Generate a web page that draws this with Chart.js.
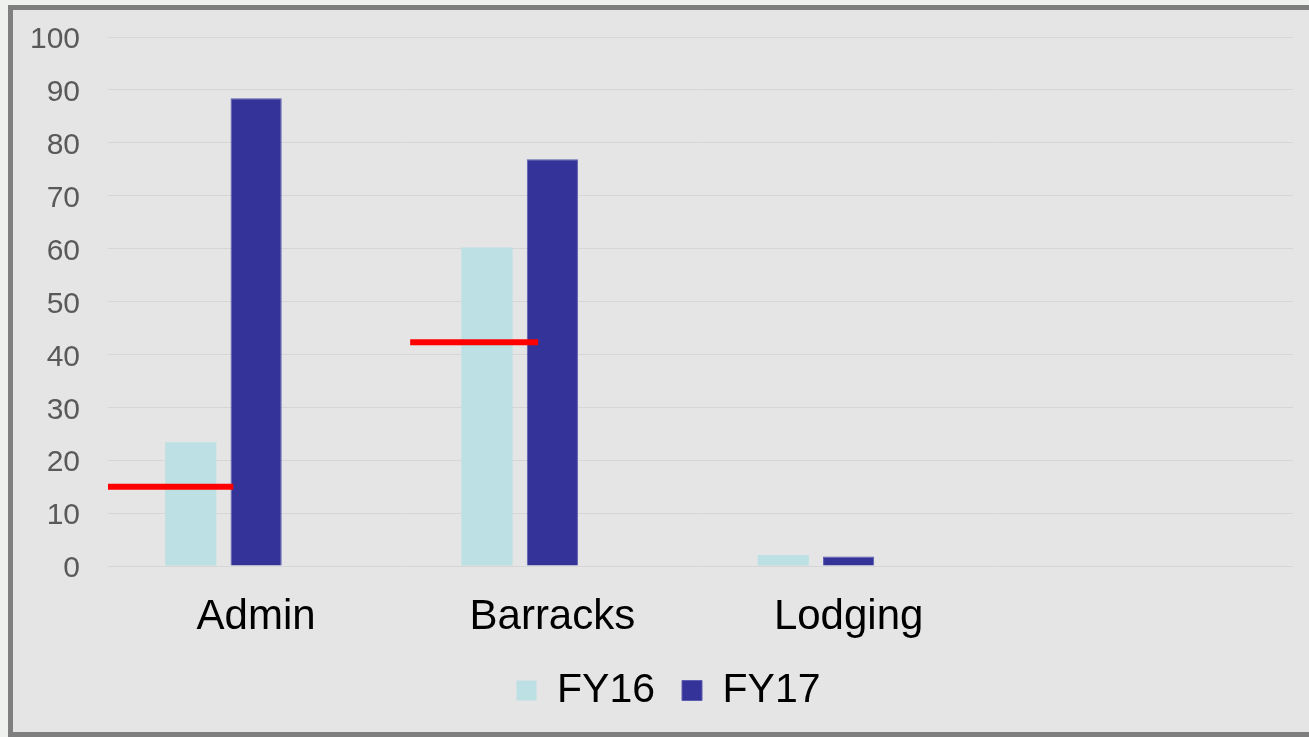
<!DOCTYPE html>
<html>
<head>
<meta charset="utf-8">
<script src="https://cdn.jsdelivr.net/npm/chart.js@4.4.1/dist/chart.umd.min.js"></script>
<style>
  html, body { margin: 0; padding: 0; width: 1309px; height: 737px; overflow: hidden; background: #eff1ef; }
  #box { position: absolute; left: 8px; top: 5px; width: 1400px; height: 722px; border: 5px solid #7f7f7f; background: #e5e5e5; }
  #wrap { position: absolute; left: 0; top: 0; width: 1309px; height: 737px; }
</style>
</head>
<body>
<div id="box"></div>
<div id="wrap"><canvas id="c" width="1309" height="737"></canvas></div>
<script>
// ---- data ----
const categories = ["Admin", "Barracks", "Lodging", ""];
const seriesNames = ["FY16", "FY17"];
const fy16 = [23.4, 60.2, 2.1, null];
const fy17 = [88.4, 76.9, 1.8, null];
const spareSeries = [null, null, null, null];
const targetValues = [15, 42.3];
const targetFrom = [-0.5, 0.52];
const targetTo = [-0.077, 0.952];
const yTicks = [0, 10, 20, 30, 40, 50, 60, 70, 80, 90, 100];

const toPoints = (arr) => arr.map((v, i) => ({ x: i, y: v }));

const targetSets = targetValues.map((v, i) => ({
  type: 'line',
  label: 'target' + i,
  data: [{ x: targetFrom[i], y: v }, { x: targetTo[i], y: v }],
  borderColor: '#ff0000',
  borderWidth: 6,
  pointRadius: 0,
  borderCapStyle: 'butt',
  clip: false,
  order: 0
}));

const barOpts = { categoryPercentage: 0.662, barPercentage: 0.783, order: 1 };

const shiftLegend = {
  id: 'shiftLegend',
  afterLayout(chart) {
    if (chart.legend) { chart.legend.left += 22; chart.legend.right += 22; }
  }
};

new Chart(document.getElementById('c'), {
  type: 'bar',
  data: {
    datasets: [
      { label: seriesNames[0], data: toPoints(fy16), backgroundColor: '#bce0e3', ...barOpts },
      { label: seriesNames[1], data: toPoints(fy17), backgroundColor: '#333399', borderColor: '#5c5cb0', borderWidth: 1, ...barOpts },
      { label: '', data: toPoints(spareSeries), backgroundColor: 'rgba(0,0,0,0)', ...barOpts },
      ...targetSets
    ]
  },
  plugins: [shiftLegend],
  options: {
    responsive: false,
    animation: false,
    layout: { padding: { left: 0, right: 16, top: 37, bottom: 16 } },
    plugins: {
      tooltip: { enabled: false },
      legend: {
        position: 'bottom',
        labels: {
          filter: (item) => seriesNames.includes(item.text),
          color: '#000000',
          font: { family: 'Liberation Sans, Arial, sans-serif', size: 41 },
          boxWidth: 20,
          boxHeight: 20,
          padding: 27
        }
      }
    },
    scales: {
      x: {
        type: 'linear',
        offset: false,
        min: -0.5,
        max: categories.length - 0.5,
        afterBuildTicks: (a) => { a.ticks = categories.map((c, i) => ({ value: i })); },
        grid: { display: false },
        border: { display: false },
        ticks: {
          callback: (v) => categories[v],
          color: '#000000',
          font: { family: 'Liberation Sans, Arial, sans-serif', size: 42 },
          padding: 18,
          maxRotation: 0,
          autoSkip: false
        },
        afterFit: (a) => { a.height = 77; }
      },
      y: {
        min: 0,
        max: 100,
        afterBuildTicks: (a) => { a.ticks = yTicks.map(v => ({ value: v })); },
        grid: { color: '#d6d6d6', lineWidth: 1, drawTicks: false },
        border: { display: false },
        ticks: {
          color: '#595959',
          font: { family: 'Liberation Sans, Arial, sans-serif', size: 30 },
          padding: 28,
          labelOffset: 3
        },
        afterFit: (a) => { a.width = 108; a.paddingTop = 0; a.paddingBottom = 0; }
      }
    }
  }
});
</script>
</body>
</html>
